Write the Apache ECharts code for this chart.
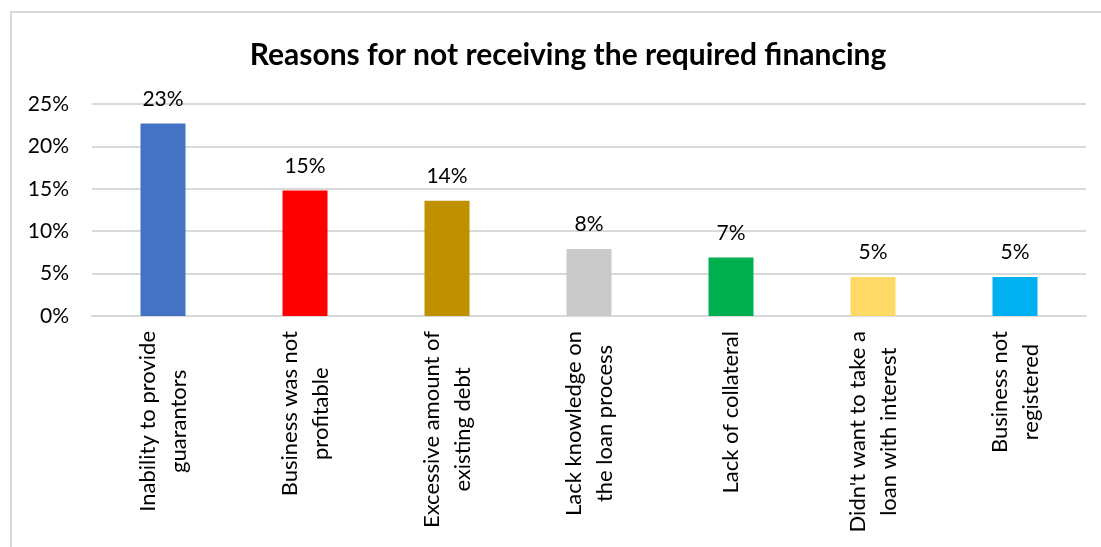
<!DOCTYPE html>
<html>
<head>
<meta charset="utf-8">
<script src="https://cdn.jsdelivr.net/npm/echarts@6/dist/echarts.min.js"></script>
<style>
  html, body { margin: 0; padding: 0; background: #fff; }
  #chart { width: 1101px; height: 547px; }
</style>
</head>
<body>
<div id="chart"></div>
<script>
// Reasons for not receiving financing (share of respondents, %)
const categories = [
  'Inability to provide\nguarantors',
  'Business was not\nprofitable',
  'Excessive amount of\nexisting debt',
  'Lack knowledge on\nthe loan process',
  'Lack of collateral',
  "Didn't want to take a\nloan with interest",
  'Business not\nregistered'
];
const values = [22.7, 14.8, 13.6, 7.9, 6.9, 4.6, 4.6];
const barColors = ['#4472C4', '#FF0000', '#BF9000', '#C9C9C9', '#00B050', '#FFD966', '#00B0F0'];
const yTicks = [0, 5, 10, 15, 20, 25];

const FONT = 'Lato, "Open Sans", sans-serif';

const chart = echarts.init(document.getElementById('chart'), null, { renderer: 'canvas' });

chart.setOption({
  animation: false,
  backgroundColor: '#ffffff',
  title: {
    text: 'Reasons for not receiving the required financing',
    left: 563,
    top: 35,
    textAlign: 'center',
    textStyle: { fontFamily: FONT, fontSize: 30, fontWeight: 'bold', color: '#000' }
  },
  graphic: [{
    type: 'rect',
    shape: { x: 11, y: 12, width: 1100, height: 545 },
    style: { fill: 'none', stroke: '#D9D9D9', lineWidth: 2 },
    silent: true
  }],
  grid: { left: 92, right: 15, top: 104, bottom: 231, containLabel: false },
  xAxis: {
    type: 'category',
    data: categories,
    axisLine: { show: true, lineStyle: { color: '#D9D9D9', width: 2 } },
    axisTick: { show: false },
    axisLabel: {
      interval: 0,
      rotate: 90,
      margin: 15,
      color: '#000',
      fontFamily: FONT,
      fontSize: 22,
      lineHeight: 31,
      formatter: function (v) {
        return v.split('\n').map(function (s) { return '{c|' + s + '}'; }).join('\n');
      },
      rich: {
        c: { align: 'center', fontFamily: FONT, fontSize: 22, lineHeight: 31, color: '#000' }
      }
    }
  },
  yAxis: {
    type: 'value',
    min: yTicks[0],
    max: yTicks[yTicks.length - 1],
    interval: 5,
    axisLine: { show: false },
    axisTick: { show: false },
    splitLine: { lineStyle: { color: '#D9D9D9', width: 2 } },
    axisLabel: {
      margin: 23,
      color: '#000',
      fontFamily: FONT,
      fontSize: 21,
      formatter: '{value}%'
    }
  },
  series: [{
    type: 'bar',
    barWidth: 45,
    data: values.map(function (v, i) {
      return { value: v, itemStyle: { color: barColors[i] } };
    }),
    label: {
      show: true,
      position: 'top',
      distance: 14,
      color: '#000',
      fontFamily: FONT,
      fontSize: 21,
      formatter: function (p) { return Math.round(p.value) + '%'; }
    }
  }]
});
</script>
</body>
</html>
